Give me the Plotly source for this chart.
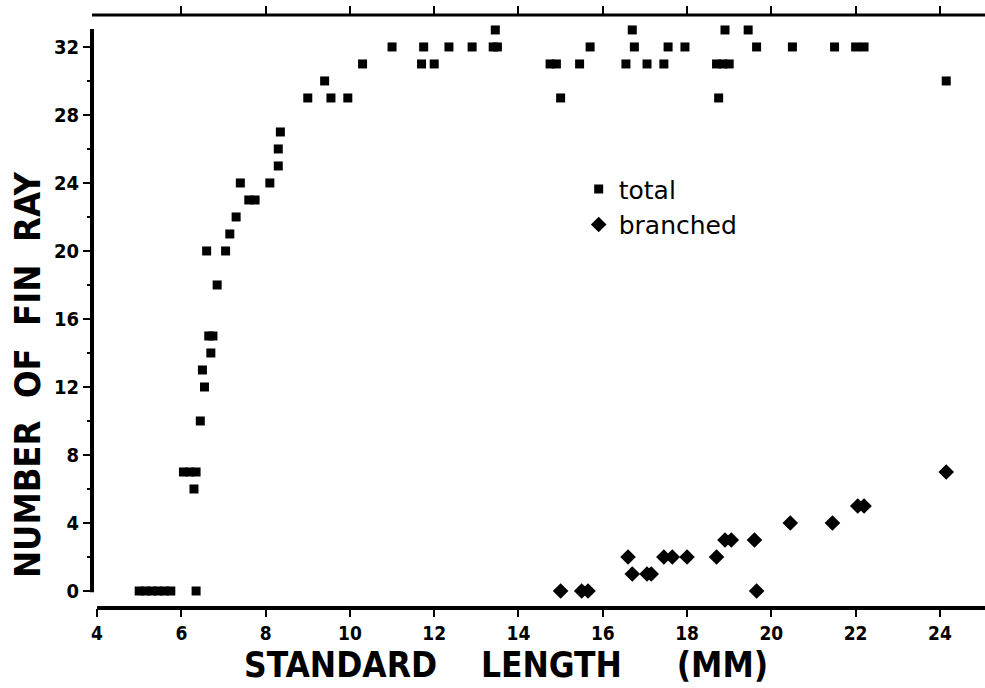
import plotly.graph_objects as go

# Standard length (mm) and fin-ray counts
total_x = [5.0, 5.15, 5.3, 5.45, 5.6, 5.75, 6.35,
           6.3, 6.05, 6.2, 6.35, 6.45, 6.55, 6.5, 6.7, 6.65, 6.75, 6.85,
           6.6, 7.05, 7.15, 7.3, 7.6, 7.75, 7.4, 8.1, 8.3, 8.3, 8.35,
           9.0, 9.55, 9.95, 9.4,
           10.3, 11.7, 12.0, 14.75, 14.9, 15.45, 16.55, 17.05, 17.45, 18.7, 18.85, 19.0,
           11.0, 11.75, 12.35, 12.9, 13.4, 13.5, 15.7, 16.75, 17.55, 17.95, 19.65, 20.5, 21.5, 22.0, 22.2,
           13.45, 16.7, 18.9, 19.45,
           15.0, 18.75, 24.15]
total_y = [0, 0, 0, 0, 0, 0, 0,
           6, 7, 7, 7, 10, 12, 13, 14, 15, 15, 18,
           20, 20, 21, 22, 23, 23, 24, 24, 25, 26, 27,
           29, 29, 29, 30,
           31, 31, 31, 31, 31, 31, 31, 31, 31, 31, 31, 31,
           32, 32, 32, 32, 32, 32, 32, 32, 32, 32, 32, 32, 32, 32, 32,
           33, 33, 33, 33,
           29, 29, 30]

branched_x = [15.0, 15.5, 15.65, 19.65,
              16.7, 17.05, 17.15,
              16.6, 17.45, 17.65, 18.0, 18.7,
              18.9, 19.05, 19.6,
              20.45, 21.45,
              22.05, 22.2,
              24.15]
branched_y = [0, 0, 0, 0,
              1, 1, 1,
              2, 2, 2, 2, 2,
              3, 3, 3,
              4, 4,
              5, 5,
              7]

x_ticks = [4, 6, 8, 10, 12, 14, 16, 18, 20, 22, 24]
y_ticks = [0, 4, 8, 12, 16, 20, 24, 28, 32]

NARROW = "Liberation Sans Narrow, DejaVu Sans Condensed, Arial Narrow, sans-serif"
INK = "black"

fig = go.Figure()
fig.add_trace(go.Scatter(
    x=total_x, y=total_y, mode="markers", name="total",
    marker=dict(symbol="square", size=9, color=INK, line=dict(width=0)),
))
fig.add_trace(go.Scatter(
    x=branched_x, y=branched_y, mode="markers", name="branched",
    marker=dict(symbol="diamond", size=12, color=INK, line=dict(width=0)),
))
# invisible trace on the top axis so its ticks get drawn
fig.add_trace(go.Scatter(x=[x_ticks[0], x_ticks[-1]], y=[None, None], xaxis="x2",
                         showlegend=False, hoverinfo="skip"))

fig.update_layout(
    width=985, height=688,
    margin=dict(l=92, r=0, t=15, b=80),
    paper_bgcolor="white", plot_bgcolor="white",
    showlegend=True,
    legend=dict(x=0.545, y=0.745, xanchor="left", yanchor="top",
                font=dict(family="DejaVu Sans, sans-serif", size=25, color=INK),
                bgcolor="rgba(0,0,0,0)", itemwidth=30, tracegroupgap=0),
    xaxis=dict(
        range=[3.88, 25.07], tickvals=x_ticks, ticks="outside", ticklen=8, tickwidth=2,
        tickcolor=INK, showgrid=False, zeroline=False, showline=False,
        tickfont=dict(family=NARROW, size=19, color=INK, weight="bold"),
    ),
    xaxis2=dict(
        range=[3.88, 25.07], overlaying="x", side="top", tickvals=x_ticks[1:],
        ticks="outside", ticklen=8, tickwidth=2, tickcolor=INK, showticklabels=False,
        showgrid=False, zeroline=False, showline=False,
    ),
    yaxis=dict(
        range=[-1.0, 33.88], tickvals=y_ticks, ticks="outside", ticklen=8, tickwidth=2,
        tickcolor=INK, showgrid=False, zeroline=False, showline=False,
        minor=dict(dtick=2, tick0=0, ticks="outside", ticklen=4, tickwidth=2, tickcolor=INK),
        tickfont=dict(family=NARROW, size=20, color=INK, weight="bold"),
    ),
    shapes=[
        # bottom axis line, starting at x = 4
        dict(type="line", xref="x", yref="paper", x0=4, x1=25.07, y0=0, y1=0,
             line=dict(color=INK, width=4)),
        # top frame line
        dict(type="line", xref="paper", yref="paper", x0=0, x1=1, y0=1, y1=1,
             line=dict(color=INK, width=3)),
        # left axis line
        dict(type="line", xref="paper", yref="y", x0=0, x1=0, y0=-0.08, y1=33.05,
             line=dict(color=INK, width=4)),
    ],
    annotations=[
        dict(text="STANDARD    LENGTH     (MM)", xref="paper", yref="paper",
             x=(506 - 92) / 893, y=(608 - 665) / 593, xanchor="center", yanchor="middle",
             showarrow=False, font=dict(family=NARROW, size=35, color=INK, weight="bold")),
        dict(text="NUMBER  OF  FIN  RAY", xref="paper", yref="paper",
             x=(27 - 92) / 893, y=(608 - 375) / 593, xanchor="center", yanchor="middle",
             textangle=-90, showarrow=False,
             font=dict(family=NARROW, size=36, color=INK, weight="bold")),
    ],
)

fig.write_html("out.html")
